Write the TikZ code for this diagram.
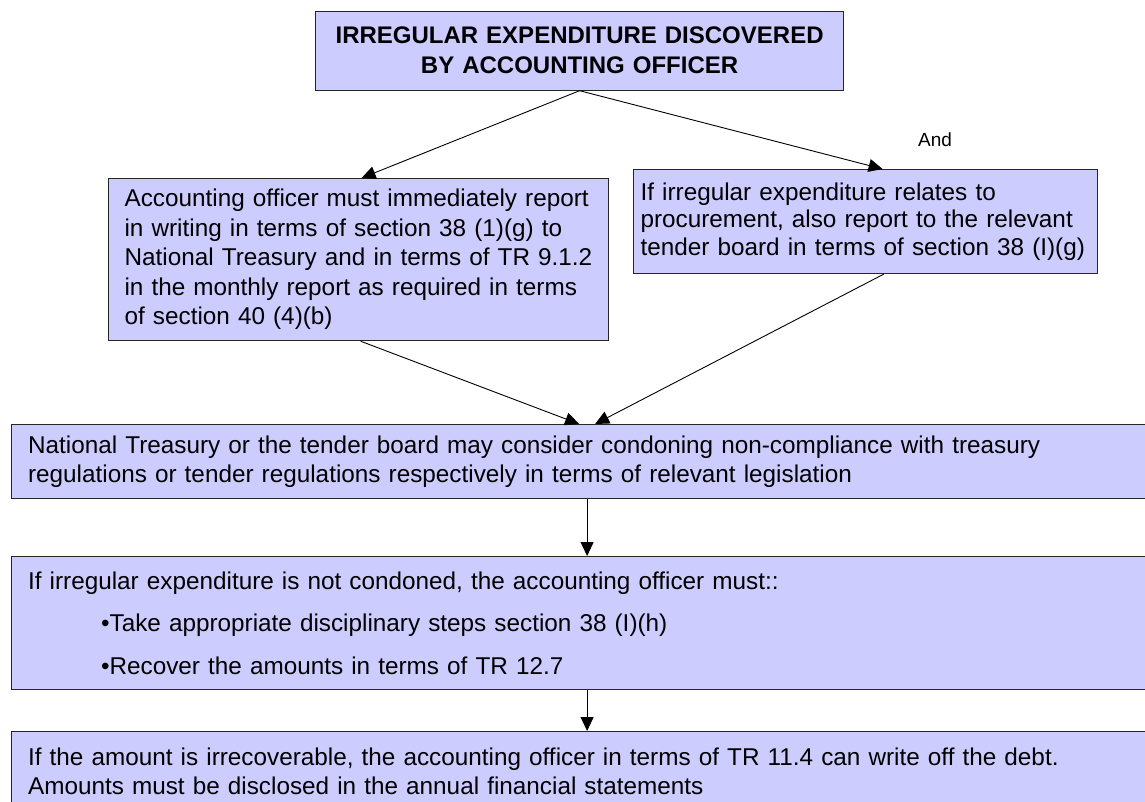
\documentclass[tikz,border=0pt]{standalone}
\usepackage{fontspec}
\setmainfont{Liberation Sans}
\usetikzlibrary{arrows.meta}
\definecolor{boxfill}{HTML}{CCCCFF}
\begin{document}
\begin{tikzpicture}[x=1pt,y=-1pt,
  box/.style={draw=black!85, fill=boxfill, line width=1.2pt, anchor=north west,
              inner ysep=0pt, align=left},
  conn/.style={-{Triangle[length=14pt,width=13pt]}, line width=0.9pt, black},
  body/.style={font=\fontsize{24.3}{29}\selectfont}]
\useasboundingbox (0,0) rectangle (1145,801);

\node[box, minimum width=528pt, minimum height=79pt, inner xsep=10pt, text width=508pt,
      align=center, font=\fontsize{24}{30}\selectfont\bfseries] (top) at (315,10.5)
  {IRREGULAR EXPENDITURE DISCOVERED\\BY ACCOUNTING OFFICER};

\node[font=\fontsize{19}{22}\selectfont] (and) at (935,140) {And};

\node[box, font=\fontsize{24.3}{29.5}\selectfont, minimum width=500pt, minimum height=162pt, inner xsep=16pt, text width=468pt] (lb) at (108,178)
  {Accounting officer must immediately report\\in writing in terms of section 38 (1)(g) to\\National Treasury and in terms of TR 9.1.2\\in the monthly report as required in terms\\of section 40 (4)(b)};

\node[box, font=\fontsize{24.3}{27.5}\selectfont, minimum width=464pt, minimum height=104pt, inner xsep=7pt, text width=450pt] (rb) at (633,169)
  {If irregular expenditure relates to\\procurement, also report to the relevant\\tender board in terms of section 38 (I)(g)};

\node[box, body, minimum width=1152pt, minimum height=74pt, inner xsep=17pt, text width=1118pt] (mid) at (10.5,424)
  {National Treasury or the tender board may consider condoning non-compliance with treasury\\regulations or tender regulations respectively in terms of relevant legislation};

\node[box, body, minimum width=1152pt, minimum height=133pt, inner xsep=17pt, text width=1118pt] (act) at (10.5,556)
  {If irregular expenditure is not condoned, the accounting officer must::\\[13.5pt]
   \hspace*{73pt}•Take appropriate disciplinary steps section 38 (I)(h)\\[13.5pt]
   \hspace*{73pt}•Recover the amounts in terms of TR 12.7};

\node[box, body, minimum width=1152pt, minimum height=80pt, inner xsep=17pt, text width=1118pt] (wo) at (10.5,731)
  {If the amount is irrecoverable, the accounting officer in terms of TR 11.4 can write off the debt.\\Amounts must be disclosed in the annual financial statements};

\draw[conn] (top.south) -- ([xshift=3pt]lb.north);
\draw[conn] (top.south) -- ([xshift=17pt]rb.north);
\draw[conn] ([xshift=2pt]lb.south) -- ([xshift=-8pt]mid.north);
\draw[conn] ([xshift=18pt]rb.south) -- ([xshift=8pt]mid.north);
\draw[conn] (mid.south) -- (act.north);
\draw[conn] (act.south) -- (wo.north);
\end{tikzpicture}
\end{document}
